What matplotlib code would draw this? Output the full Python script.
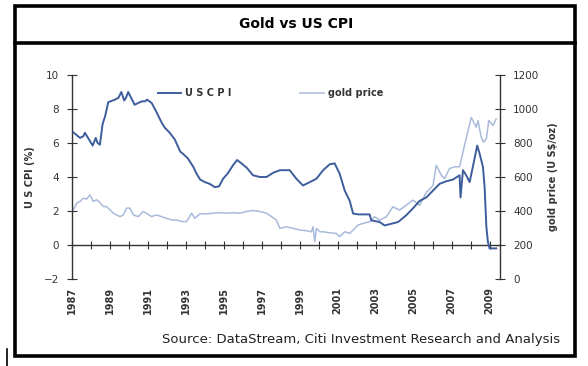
import matplotlib.pyplot as plt
from matplotlib.lines import Line2D
from matplotlib.patches import Rectangle

# US CPI, % yoy
cpi_year = [1987.07, 1987.42, 1987.6, 1987.68, 1987.9, 1988.09, 1988.25, 1988.35, 1988.47,
            1988.61, 1988.75, 1988.91, 1989.26, 1989.44, 1989.6, 1989.75, 1989.84, 1989.96,
            1990.3, 1990.67, 1990.85, 1990.96, 1991.2, 1991.46, 1991.72, 1991.89, 1992.15,
            1992.42, 1992.7, 1992.86, 1993.1, 1993.39, 1993.56, 1993.75, 1994.0, 1994.25,
            1994.53, 1994.75, 1994.96, 1995.2, 1995.49, 1995.7, 1995.93, 1996.2, 1996.54,
            1996.9, 1997.25, 1997.6, 1997.95, 1998.47, 1998.82, 1999.17, 1999.53, 1999.88,
            2000.23, 2000.58, 2000.84, 2001.1, 2001.37, 2001.63, 2001.81, 2002.07, 2002.68,
            2002.77, 2003.21, 2003.47, 2004.18, 2004.61, 2004.96, 2005.32, 2005.67, 2006.02,
            2006.37, 2006.72, 2007.07, 2007.42, 2007.47, 2007.6, 2007.77, 2007.95, 2008.12,
            2008.35, 2008.47, 2008.65, 2008.74, 2008.83, 2008.91, 2009.0, 2009.35]
cpi = [6.63, 6.3, 6.4, 6.6, 6.2, 5.85, 6.3, 6.0, 5.9,
       7.1, 7.6, 8.4, 8.55, 8.65, 9.0, 8.5, 8.65, 9.0,
       8.25, 8.45, 8.45, 8.55, 8.35, 7.8, 7.2, 6.9, 6.6,
       6.2, 5.5, 5.35, 5.1, 4.6, 4.2, 3.85, 3.7, 3.6,
       3.4, 3.45, 3.9, 4.2, 4.7, 5.0, 4.8, 4.55, 4.1,
       4.0, 4.0, 4.25, 4.4, 4.4, 3.9, 3.5, 3.7, 3.9,
       4.4, 4.75, 4.8, 4.2, 3.2, 2.6, 1.85, 1.8, 1.8,
       1.45, 1.35, 1.15, 1.35, 1.75, 2.15, 2.6, 2.8, 3.2,
       3.6, 3.75, 3.85, 4.1, 2.8, 4.4, 4.1, 3.7, 4.6,
       5.85, 5.4, 4.6, 3.4, 1.1, 0.2, -0.2, -0.2]

# gold price, US$/oz
gold_year = [1987.07, 1987.25, 1987.42, 1987.6, 1987.77, 1987.95, 1988.12, 1988.3, 1988.47,
             1988.65, 1988.82, 1989.0, 1989.18, 1989.35, 1989.53, 1989.7, 1989.88, 1990.05,
             1990.23, 1990.49, 1990.75, 1990.93, 1991.19, 1991.46, 1991.72, 1991.98, 1992.25,
             1992.51, 1992.77, 1993.04, 1993.3, 1993.47, 1993.74, 1994.09, 1994.44, 1994.79,
             1995.14, 1995.49, 1995.84, 1996.19, 1996.54, 1996.89, 1997.25, 1997.51, 1997.77,
             1997.95, 1998.3, 1998.65, 1999.0, 1999.35, 1999.61, 1999.7, 1999.79, 1999.88,
             2000.05, 2000.23, 2000.58, 2000.93, 2001.1, 2001.37, 2001.63, 2001.81, 2002.07,
             2002.33, 2002.68, 2002.95, 2003.21, 2003.56, 2003.91, 2004.26, 2004.61, 2004.96,
             2005.32, 2005.67, 2006.02, 2006.19, 2006.46, 2006.63, 2006.89, 2007.16, 2007.42,
             2007.68, 2007.91, 2008.04, 2008.3, 2008.39, 2008.56, 2008.68, 2008.83, 2008.96,
             2009.18, 2009.35]
gold = [407, 446, 456, 475, 470, 495, 456, 466, 450,
        426, 426, 407, 387, 377, 367, 377, 417, 417,
        377, 367, 397, 387, 367, 377, 367, 357, 347,
        347, 338, 338, 387, 357, 383, 383, 387, 390,
        387, 390, 387, 397, 403, 397, 387, 367, 347,
        298, 307, 298, 288, 284, 278, 307, 220, 298,
        278, 278, 272, 268, 249, 278, 268, 288, 317,
        327, 337, 366, 346, 366, 425, 405, 434, 464,
        434, 510, 550, 669, 610, 590, 650, 660, 660,
        786, 893, 950, 893, 932, 835, 805, 825, 932,
        903, 942]

years_shown = list(range(1987, 2010, 2))
cpi_ticks = [-2, 0, 2, 4, 6, 8, 10]
gold_ticks = [0, 200, 400, 600, 800, 1000, 1200]

cpi_color = '#3d5d9c'
gold_color = '#a9badb'
axis_color = '#333333'

fig = plt.figure(figsize=(5.88, 3.66), dpi=100)
ax = fig.add_axes([72 / 588, 1 - 279 / 366, (500 - 72) / 588, (279 - 75) / 366])
ax2 = ax.twinx()

ax.plot(cpi_year, cpi, color=cpi_color, lw=1.4, zorder=3)
ax2.plot(gold_year, gold, color=gold_color, lw=1.1, zorder=2)
ax.set_zorder(ax2.get_zorder() + 1)
ax.patch.set_visible(False)

ax.set_xlim(1987, 2009.55)
ax.set_ylim(-2, 10)
ax2.set_ylim(0, 1200)

for s in ['top', 'right']:
    ax.spines[s].set_visible(False)
for s in ['top', 'left', 'bottom']:
    ax2.spines[s].set_visible(False)
ax.spines['bottom'].set_position(('data', 0))
for s in [ax.spines['bottom'], ax.spines['left'], ax2.spines['right']]:
    s.set_color(axis_color)
    s.set_linewidth(1.0)

ax.set_xticks(range(1987, 2010))
ax.tick_params(axis='x', direction='inout', length=6, labelbottom=False, color=axis_color)
ax.set_yticks(cpi_ticks)
ax.tick_params(axis='y', direction='inout', length=7, labelsize=7.5,
               labelcolor=axis_color, color=axis_color, pad=6)
ax2.set_yticks(gold_ticks)
ax2.tick_params(axis='y', direction='inout', length=7, labelsize=7.5,
                labelcolor=axis_color, color=axis_color, pad=6)

sec = ax.secondary_xaxis('bottom')
sec.set_xticks(years_shown)
sec.set_xticklabels([str(y) for y in years_shown], rotation=90, fontsize=7,
                    color=axis_color, fontweight='bold')
sec.spines['bottom'].set_visible(False)
sec.tick_params(length=0, pad=6)

ax.set_ylabel('U S CPI (%)', fontsize=7, color=axis_color, fontweight='bold', labelpad=6)
ax2.set_ylabel('gold price (U S$/oz)', fontsize=7, color=axis_color, fontweight='bold', labelpad=6)

leg1 = ax.legend([Line2D([], [], color=cpi_color, lw=1.4)], ['U S C P I'],
                 loc='center left', bbox_to_anchor=(0.18, 0.91), frameon=False,
                 fontsize=7, handlelength=2.4, handletextpad=0.4)
for t in leg1.get_texts():
    t.set_color(axis_color)
    t.set_fontweight('bold')
leg2 = ax2.legend([Line2D([], [], color=gold_color, lw=1.1)], ['gold price'],
                  loc='center left', bbox_to_anchor=(0.513, 0.91), frameon=False,
                  fontsize=7, handlelength=2.4, handletextpad=0.4)
for t in leg2.get_texts():
    t.set_color(axis_color)
    t.set_fontweight('bold')

# frame around the chart and title bar
fig.patches.append(Rectangle((15 / 588, 1 - 356 / 366), 560 / 588, 350 / 366,
                             transform=fig.transFigure, fill=False, lw=2.6,
                             edgecolor='black'))
fig.add_artist(Line2D([15 / 588, 575 / 588], [1 - 43 / 366, 1 - 43 / 366],
                      transform=fig.transFigure, color='black', lw=2.6))
fig.add_artist(Line2D([7 / 588, 7 / 588], [1 - 366 / 366, 1 - 349 / 366],
                      transform=fig.transFigure, color='black', lw=1.2))

fig.text(296 / 588, 1 - 24 / 366, 'Gold vs US CPI', ha='center', va='center',
         fontsize=10, fontweight='bold')
fig.text(560 / 588, 1 - 340 / 366,
         'Source: DataStream, Citi Investment Research and Analysis',
         ha='right', va='center', fontsize=9.5, color='#222222')

fig.savefig('out.png', dpi=100)
